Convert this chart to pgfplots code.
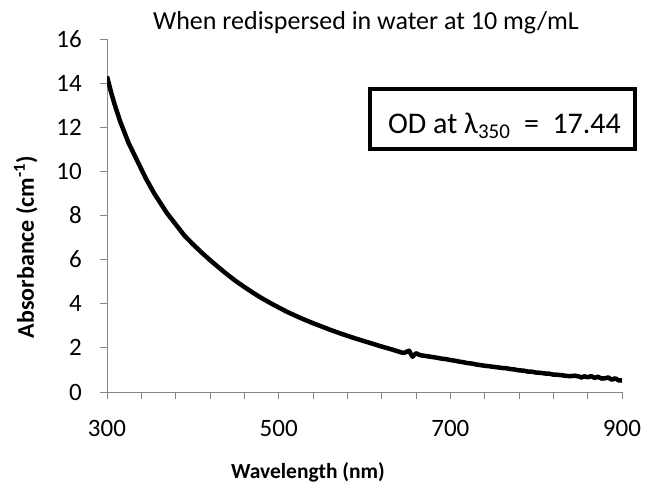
\documentclass[border=0pt]{standalone}
\usepackage{fontspec}
\setmainfont{Carlito}
\usepackage{pgfplots}
\pgfplotsset{compat=1.18}
\definecolor{axgray}{RGB}{134,134,134}
\pgfplotstableread{
x y
300 14.30
303 13.85
305 13.55
308 13.15
310 12.90
313 12.55
315 12.30
318 12.00
320 11.80
325 11.30
330 10.90
335 10.50
340 10.10
345 9.70
350 9.35
355 9.00
360 8.70
365 8.40
370 8.10
375 7.85
380 7.60
385 7.35
390 7.10
395 6.90
400 6.70
410 6.33
420 5.98
430 5.65
440 5.33
450 5.03
460 4.76
470 4.50
480 4.26
490 4.04
500 3.83
510 3.63
520 3.45
530 3.28
540 3.12
550 2.97
560 2.82
570 2.68
580 2.55
590 2.42
600 2.30
610 2.18
620 2.06
630 1.95
640 1.83
645 1.77
648 1.80
650 1.84
652 1.87
654 1.72
656 1.60
658 1.68
660 1.76
663 1.70
666 1.66
670 1.64
675 1.61
680 1.58
685 1.55
690 1.51
695 1.49
700 1.45
705 1.42
710 1.38
715 1.35
720 1.31
725 1.29
730 1.25
735 1.22
740 1.19
745 1.17
750 1.14
755 1.12
760 1.09
765 1.08
770 1.04
775 1.02
780 0.98
785 0.97
790 0.93
795 0.92
800 0.88
805 0.87
810 0.84
815 0.83
820 0.79
825 0.78
830 0.76
835 0.73
840 0.72
845 0.74
850 0.70
853 0.66
856 0.71
860 0.67
864 0.72
868 0.64
872 0.69
876 0.61
880 0.62
884 0.66
888 0.56
892 0.62
896 0.53
900 0.52
}\datatable
\begin{document}
\begin{tikzpicture}[x=1pt,y=1pt]
\begin{axis}[
  scale only axis, width=515pt, height=353pt,
  xmin=300, xmax=900, ymin=0, ymax=16,
  axis lines*=left,
  axis line style={axgray, line width=1pt},
  tick style={axgray, line width=1pt},
  tick align=outside,
  major tick length=7pt,
  xtick={300,340,...,900},
  xticklabels={300,,,,,500,,,,,700,,,,,900},
  ytick={0,2,...,16},
  /pgf/number format/assume math mode=true,
  tick label style={font=\fontsize{25}{30}\selectfont, text=black},
  xticklabel style={anchor=north, inner sep=0pt, yshift=-21pt},
  yticklabel style={anchor=east, inner sep=0pt, xshift=-18pt},
]
\addplot[black, line width=4.5pt, line join=round] table[x=x,y=y] {\datatable};
\end{axis}
\node[anchor=base, font=\fontsize{26}{30}\selectfont] at (259,362) {When redispersed in water at 10 mg/mL};
\node[anchor=base, font=\bfseries\fontsize{21.5}{26}\selectfont] at (201,-86) {Wavelength (nm)};
\node[anchor=base, rotate=90, font=\bfseries\fontsize{24}{28}\selectfont] at (-73,145) {Absorbance (cm\textsuperscript{-1})};
\draw[black, line width=4pt] (263,243) rectangle (528,303);
\node[anchor=base, font=\fontsize{30}{34}\selectfont] at (397.5,258.7) {OD at λ\textsubscript{350}\ \ =\ \ 17.44};
\pgfresetboundingbox
\path (-107,-99) rectangle (545,392);
\end{tikzpicture}
\end{document}
